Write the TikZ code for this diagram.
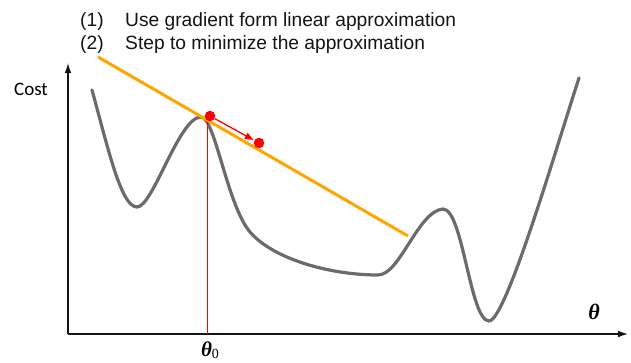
\documentclass[tikz,border=0pt]{standalone}
\usepackage{fontspec}
\usepackage{tikz}
\usetikzlibrary{arrows.meta,positioning,calc}
\newfontfamily\labelfont{Liberation Sans}
\newfontfamily\costfont{Carlito}
\newfontfamily\greekfont{Liberation Serif}
\definecolor{Curve}{HTML}{6B6B6B}
\definecolor{Tangent}{HTML}{FFA500}
\definecolor{Dot}{HTML}{FF0000}
\definecolor{Ink}{HTML}{141414}
\tikzset{
  axisarrow/.style={-{Latex[length=3.6mm,width=2.4mm]}, line width=1.3pt, draw=Ink},
  costcurve/.style={line width=3.2pt, draw=Curve, line cap=round},
  tangentline/.style={line width=3pt, draw=Tangent},
  dotmark/.style={circle, fill=Dot, inner sep=0pt, minimum size=10.5pt},
  steparrow/.style={-{Triangle[length=3mm,width=2.4mm]}, line width=1.3pt, draw=Dot, shorten >=1pt},
  guideline/.style={line width=0.8pt, draw=Dot},
  steptext/.style={font=\labelfont\fontsize{19.2}{21}\selectfont, text=Ink, inner sep=0pt, anchor=west},
}

\begin{document}
\begin{tikzpicture}[x=1pt,y=-1pt]
\path[use as bounding box] (0,0) rectangle (631,363);

% steps
\node[steptext] (num1) at (80,22) {(1)};
\node[steptext] (step1) at (125,22) {Use gradient form linear approximation};
\node[steptext] (num2) at (80,45) {(2)};
\node[steptext] (step2) at (125,45) {Step to minimize the approximation};

% axes
\coordinate (origin) at (68,334);
\draw[axisarrow] (origin) -- (68,63);
\draw[axisarrow] (origin) -- (628,334);
\node[font=\costfont\fontsize{19}{21}\selectfont, text=black] (cost) at (31,89) {Cost};
\node[font=\greekfont\fontsize{22}{24}\selectfont\bfseries\itshape, text=black] (theta) at (594,312) {θ};

% cost curve
\draw[costcurve] (92,90) .. controls (108,148) and (121,207) .. (137,207)
  .. controls (153,207) and (179,117) .. (201,117)
  .. controls (215,117) and (227,205) .. (250,232)
  .. controls (273,259) and (330,275) .. (378,275)
  .. controls (400,275) and (418,211) .. (443,209)
  .. controls (463,209) and (470,321) .. (489,321)
  .. controls (506,321) and (557,145) .. (579,78);

% starting point and guide to the axis
\coordinate (peak) at (207,118);
\coordinate (foot) at (207,334);
\draw[guideline] (peak) -- (foot);
\node[font=\greekfont\fontsize{21}{23}\selectfont, text=black, inner sep=0pt] (theta0) at (210,350) {\textbf{\textit{θ}}\raisebox{-2.5pt}{\fontsize{14}{15}\selectfont 0}};

% linear approximation
\coordinate (tanstart) at (98,57);
\coordinate (tanend) at (408,236);
\draw[tangentline] (tanstart) -- (tanend);

% step along the tangent
\node[dotmark] (here) at (210,116) {};
\node[dotmark] (next) at (259,143) {};
\draw[steparrow] (here) -- (next);
\end{tikzpicture}
\end{document}
